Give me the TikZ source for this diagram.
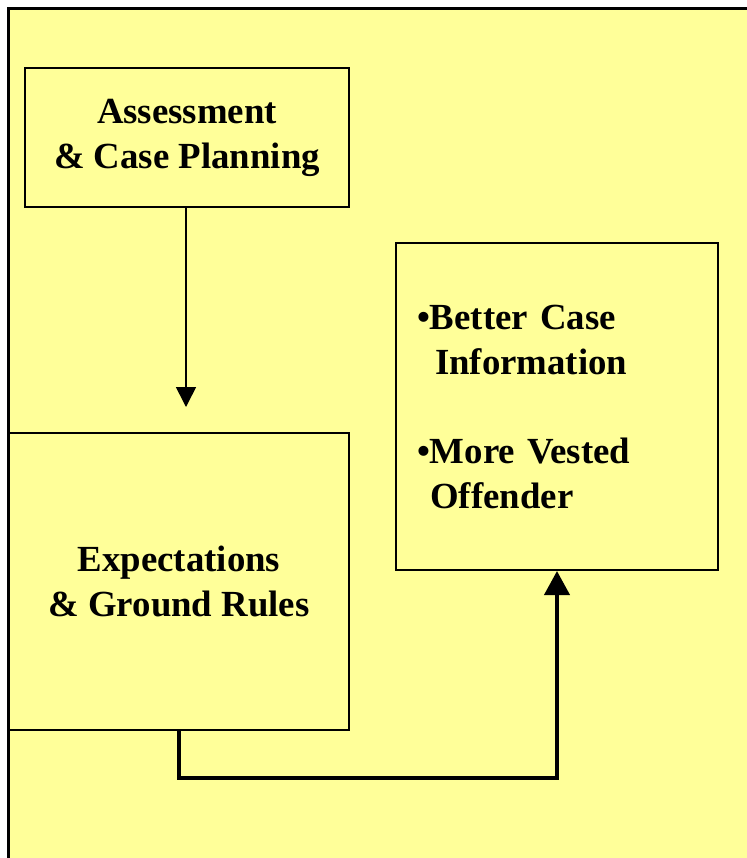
\documentclass[tikz,border=0pt]{standalone}
\usepackage{fontspec}
\setmainfont{Liberation Serif}
\usepackage{xcolor}
\usetikzlibrary{arrows.meta,positioning,calc}
\definecolor{pad}{HTML}{FFFF99}
\definecolor{ink}{HTML}{000000}
\tikzset{
  stagebox/.style={draw=ink,fill=pad,line width=1.5pt,rectangle,
                   align=center,inner sep=0pt,
                   font=\fontsize{27.6}{33.75}\selectfont\bfseries},
  thinarr/.style={-{Triangle[length=15pt,width=15pt]},line width=1.2pt,color=ink},
  thickarr/.style={-{Triangle[length=18pt,width=18.75pt]},line width=3pt,color=ink}
}

\begin{document}
\begin{tikzpicture}[x=0.75pt,y=-0.75pt]
      \useasboundingbox (0,0) rectangle (747,858);
      \clip (0,0) rectangle (747,858);
      \draw[fill=pad,line width=2.25pt] (8.5,8.5) rectangle (770,880);

      \node[stagebox,minimum width=243pt,minimum height=104.25pt] (assess) at (187,137.5)
        {Assessment\\\& Case Planning};
      \node[stagebox,minimum width=255pt,minimum height=222.75pt] (expect) at (179,581.5)
        {Expectations\\\& Ground Rules};
      \node[stagebox,minimum width=241.5pt,minimum height=245.25pt,
            text width=210pt,inner xsep=15.75pt,align=left] (result) at (557,406.5)
        {\textbullet Better Case\\\hspace*{13.5pt}Information\\[33pt]%
         \textbullet More Vested\\\hspace*{10pt}Offender};

      \coordinate (tip) at (186,407);
      \coordinate (bend) at (179,778);
      \draw[thinarr] (assess.south -| tip) -- (tip);
      \draw[thickarr] (expect.south -| bend) -- (bend) -| (result.south);
\end{tikzpicture}
\end{document}
